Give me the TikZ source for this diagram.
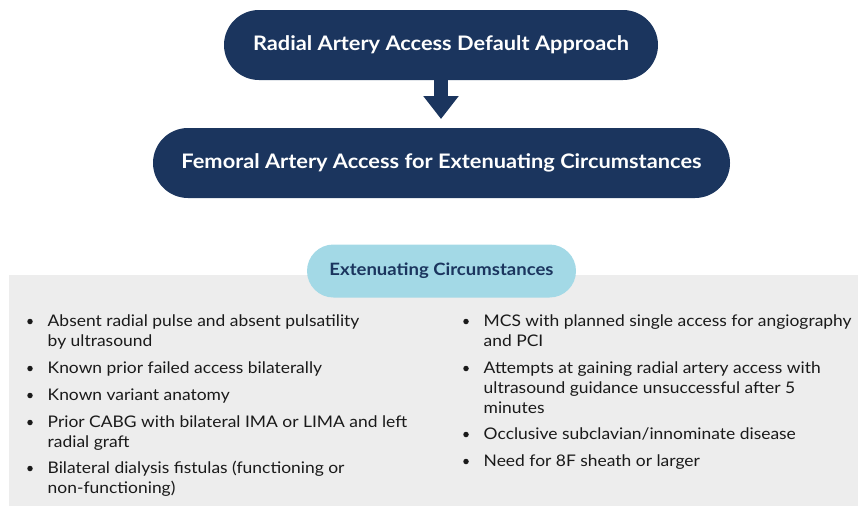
\documentclass[tikz,border=0pt]{standalone}
\usepackage{fontspec}
\setmainfont{Lato}[FakeStretch=1.09]
\usetikzlibrary{shapes.misc,arrows.meta}
\definecolor{navy}{HTML}{1B355E}
\definecolor{lightblue}{HTML}{A3D9E6}
\definecolor{panelgray}{HTML}{EDEDED}
\definecolor{bodytext}{HTML}{1A1A1A}
\newcommand{\firstline}{\rule{0pt}{12pt}}
\tikzset{
  pill/.style={rounded rectangle, fill=navy, text=white, font=\fontsize{20}{24}\selectfont\bfseries, inner sep=0pt},
  subpill/.style={rounded rectangle, fill=lightblue, text=navy, font=\fontsize{17}{20}\selectfont\bfseries, inner sep=0pt},
  itemtext/.style={anchor=north west, align=left, inner sep=0pt, text=bodytext, font=\fontsize{16}{20}\selectfont},
  bullet/.style={circle, fill=bodytext, inner sep=0pt, minimum size=5.5pt},
  blockarrow/.style={navy, line width=14pt, -{Triangle[length=23pt, width=34pt]}}
}
\begin{document}
\begin{tikzpicture}[x=1pt,y=-1pt]
\useasboundingbox (0,0) rectangle (858,506);
\fill[panelgray] (9,275) rectangle (858,506);
\node[pill, minimum width=434pt, minimum height=70pt] (top) at (441,45) {Radial Artery Access Default Approach};
\node[pill, minimum width=577pt, minimum height=70pt] (femoral) at (441.5,163) {Femoral Artery Access for Extenuating Circumstances};
\coordinate (tip) at (441,119);
\draw[blockarrow] (top.south) -- (tip);
\node[subpill, minimum width=269pt, minimum height=53pt] (ext) at (441.5,271) {Extenuating Circumstances};
% left column
\node[itemtext] (l1) at (47.5,314) {\firstline Absent radial pulse and absent pulsatility\\by ultrasound};
\node[itemtext] (l2) at (47.5,361) {\firstline Known prior failed access bilaterally};
\node[itemtext] (l3) at (47.5,388) {\firstline Known variant anatomy};
\node[itemtext] (l4) at (47.5,415) {\firstline Prior CABG with bilateral IMA or LIMA and left\\radial graft};
\node[itemtext] (l5) at (47.5,461) {\firstline Bilateral dialysis fistulas (functioning or\\non-functioning)};
% right column
\node[itemtext] (r1) at (483.5,314) {\firstline MCS with planned single access for angiography\\and PCI};
\node[itemtext] (r2) at (483.5,361) {\firstline Attempts at gaining radial artery access with\\ultrasound guidance unsuccessful after 5\\minutes};
\node[itemtext] (r3) at (483.5,427) {\firstline Occlusive subclavian/innominate disease};
\node[itemtext] (r4) at (483.5,454) {\firstline Need for 8F sheath or larger};
\foreach \n in {l1,l2,l3,l4,l5,r1,r2,r3,r4}{\node[bullet] (b\n) at ([xshift=-17.5pt,yshift=-7.5pt]\n.north west) {};}
\end{tikzpicture}
\end{document}
